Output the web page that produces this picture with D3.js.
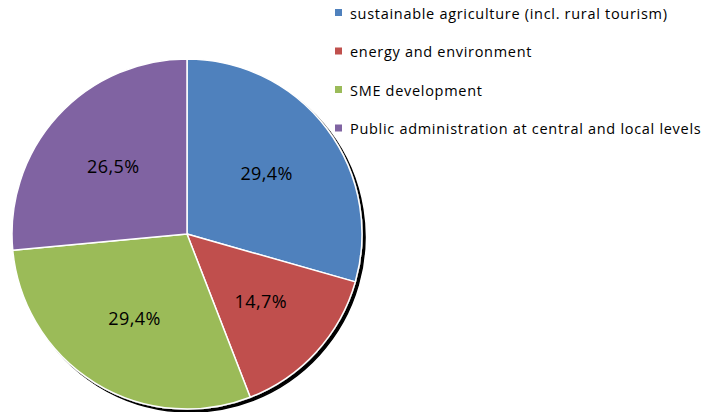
<!DOCTYPE html>
<html>
<head>
<meta charset="utf-8">
<script src="https://cdn.jsdelivr.net/npm/d3@7"></script>
<style>
  body { margin: 0; background: #fff; }
  svg { display: block; }
</style>
</head>
<body>
<svg id="chart"></svg>
<script>
// Chart data
var categories = [
  "sustainable agriculture (incl. rural tourism)",
  "energy and environment",
  "SME development",
  "Public administration at central and local levels"
];
var values = [10, 5, 10, 9];
var labels = ["29,4%", "14,7%", "29,4%", "26,5%"];
var colors = ["#4F81BD", "#C0504D", "#9BBB59", "#8064A2"];

var width = 720, height = 412;
var cx = 187, cy = 234, radius = 175;

var svg = d3.select("#chart")
    .attr("width", width)
    .attr("height", height);

// drop shadow on the lower right of the pie
var defs = svg.append("defs");
var filter = defs.append("filter")
    .attr("id", "shadow")
    .attr("x", "-10%").attr("y", "-10%")
    .attr("width", "120%").attr("height", "120%");
filter.append("feDropShadow")
    .attr("dx", 3)
    .attr("dy", 3)
    .attr("stdDeviation", 0.7)
    .attr("flood-color", "#000")
    .attr("flood-opacity", 1);

var pie = d3.pie().sort(null).value(d => d);
var arcs = pie(values);

var arc = d3.arc().innerRadius(0).outerRadius(radius);
var labelArc = d3.arc().innerRadius(radius * 0.57).outerRadius(radius * 0.57);

var g = svg.append("g")
    .attr("transform", "translate(" + cx + "," + cy + ")");

g.append("g")
    .attr("filter", "url(#shadow)")
    .selectAll("path")
    .data(arcs)
    .enter().append("path")
    .attr("d", arc)
    .attr("fill", (d, i) => colors[i])
    .attr("stroke", "#fff")
    .attr("stroke-width", 1.5)
    .attr("stroke-linejoin", "round");

g.selectAll(".lbl")
    .data(arcs)
    .enter().append("text")
    .attr("class", "lbl")
    .attr("transform", d => "translate(" + labelArc.centroid(d) + ")")
    .attr("text-anchor", "middle")
    .attr("dy", "0.35em")
    .style("font-family", "'Open Sans', 'DejaVu Sans', sans-serif")
    .style("font-size", "18px")
    .style("letter-spacing", "0.4px")
    .style("fill", "#000")
    .text((d, i) => labels[i]);

// legend
var legend = svg.append("g")
    .attr("transform", "translate(335,9)");

var rows = legend.selectAll("g")
    .data(categories)
    .enter().append("g")
    .attr("transform", (d, i) => "translate(0," + (i * 38.5) + ")");

rows.append("rect")
    .attr("width", 7)
    .attr("height", 7)
    .attr("fill", (d, i) => colors[i]);

rows.append("text")
    .attr("x", 15)
    .attr("y", 9.5)
    .style("font-family", "'Open Sans', 'DejaVu Sans', sans-serif")
    .style("font-size", "14.5px")
    .style("letter-spacing", "0.7px")
    .style("fill", "#000")
    .text(d => d);
</script>
</body>
</html>
